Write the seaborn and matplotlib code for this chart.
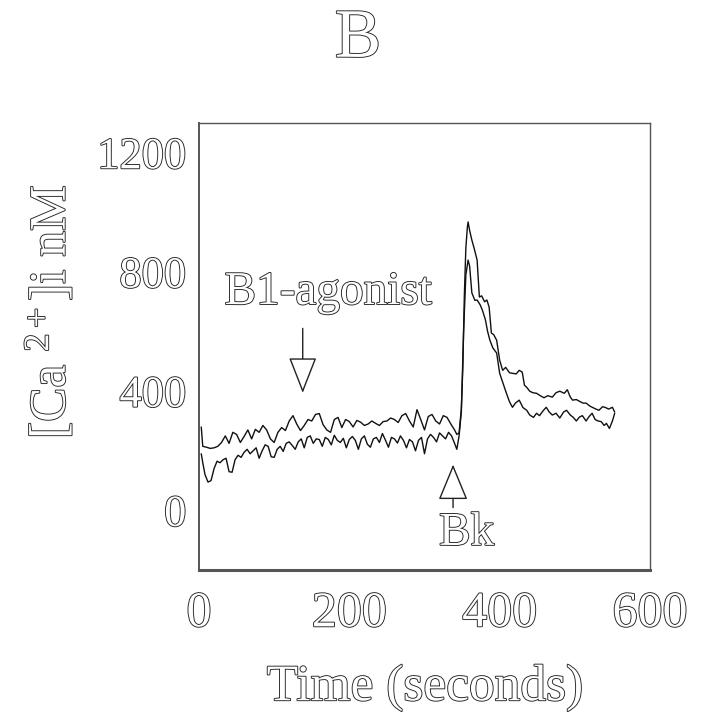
import matplotlib
matplotlib.use("Agg")
import matplotlib.pyplot as plt
import matplotlib.patheffects as pe
import seaborn as sns
import pandas as pd

# ---------------- data ----------------
upper_time = [3, 5, 10, 15, 20, 25, 30, 35, 40, 45, 50, 55, 60, 65, 70, 75, 80, 85, 90, 95,
              100, 105, 110, 115, 120, 125, 130, 135, 140, 145, 150, 155, 160, 165, 170, 175,
              180, 185, 190, 195, 200, 205, 210, 215, 220, 225, 230, 235, 240, 245, 250, 255,
              260, 265, 270, 275, 280, 285, 290, 295, 300, 305, 310, 315, 320, 325, 330, 335,
              340, 343, 346, 349, 351, 353, 355, 357, 358, 360, 363, 366, 370, 373, 376, 380,
              383, 386, 389, 392, 396, 400, 404, 408, 413, 417, 422, 426, 430, 433, 436, 440,
              444, 449, 454, 459, 464, 470, 475, 480, 486, 490, 494, 497, 502, 507, 511, 515,
              520, 524, 528, 532, 537, 541, 545, 550, 553]
upper_ca = [280, 215, 212, 208, 210, 215, 228, 250, 225, 262, 255, 228, 248, 270, 240, 272,
            262, 285, 270, 240, 228, 262, 278, 268, 300, 318, 290, 268, 285, 305, 300, 322,
            325, 288, 270, 262, 305, 312, 278, 305, 298, 280, 302, 296, 285, 290, 300, 292,
            285, 298, 300, 310, 305, 295, 318, 325, 300, 280, 338, 305, 270, 315, 322, 300,
            290, 318, 312, 290, 270, 255, 260, 340, 480, 720, 880, 950, 968, 940, 907, 880,
            840, 716, 720, 700, 706, 682, 595, 590, 571, 504, 470, 480, 462, 460, 458, 470,
            464, 420, 413, 400, 395, 393, 385, 378, 385, 380, 395, 400, 393, 405, 380, 370,
            372, 365, 360, 360, 350, 345, 340, 336, 348, 345, 340, 346, 330]

lower_time = [3, 5, 8, 12, 16, 20, 24, 28, 32, 36, 40, 44, 48, 52, 56, 60, 64, 68, 72, 76,
              80, 84, 88, 92, 96, 100, 104, 108, 112, 116, 120, 124, 128, 132, 136, 140, 144,
              148, 152, 156, 160, 164, 168, 172, 176, 180, 184, 188, 192, 196, 200, 204, 208,
              212, 216, 220, 224, 228, 232, 236, 240, 244, 248, 252, 256, 260, 264, 268, 272,
              276, 280, 284, 288, 292, 296, 300, 304, 308, 312, 316, 320, 324, 328, 332, 336,
              340, 343, 346, 349, 352, 355, 358, 360, 363, 367, 370, 374, 377, 381, 384, 387,
              391, 396, 400, 404, 409, 413, 417, 421, 426, 431, 436, 440, 445, 449, 453, 458,
              462, 466, 470, 475, 480, 485, 489, 494, 498, 502, 506, 510, 515, 519, 523, 527,
              531, 535, 539, 542, 546, 550, 553]
lower_ca = [190, 160, 120, 95, 100, 140, 165, 160, 170, 175, 130, 128, 170, 185, 178, 195,
            205, 190, 200, 210, 175, 200, 220, 215, 180, 178, 205, 215, 198, 225, 230, 218,
            205, 230, 240, 210, 245, 250, 225, 240, 238, 215, 245, 238, 220, 252, 235, 228,
            242, 210, 238, 248, 235, 205, 240, 250, 222, 212, 240, 245, 228, 258, 236, 212,
            245, 240, 226, 250, 235, 210, 238, 230, 200, 235, 245, 190, 240, 255, 245, 230,
            260, 250, 240, 262, 250, 225, 205, 250, 330, 600, 790, 840, 820, 730, 705, 706,
            690, 672, 640, 600, 571, 545, 528, 460, 430, 393, 365, 346, 360, 370, 345, 336,
            320, 312, 326, 318, 335, 346, 330, 320, 326, 310, 330, 336, 320, 312, 300, 313,
            318, 300, 315, 326, 305, 300, 298, 285, 292, 275, 300, 326]

x_ticks = [0, 200, 400, 600]
y_ticks = [0, 400, 800, 1200]
title_text = "B"
x_label = "Time (seconds)"
y_label = "[Ca $^{2+}$]i nM"
agonist_label = "B1-agonist"
bk_label = "Bk"

df = pd.concat([
    pd.DataFrame({"time": upper_time, "ca": upper_ca, "trace": "cell 1"}),
    pd.DataFrame({"time": lower_time, "ca": lower_ca, "trace": "cell 2"}),
], ignore_index=True)

# ---------------- figure ----------------
sns.set_style("white")
plt.rcParams["font.family"] = ["Liberation Serif", "DejaVu Serif"]
plt.rcParams["mathtext.fontset"] = "custom"
plt.rcParams["mathtext.rm"] = "Liberation Serif"
plt.rcParams["mathtext.it"] = "Liberation Serif"

W, H = 706, 722
fig = plt.figure(figsize=(W / 100, H / 100), dpi=100)
ax = fig.add_axes([199 / W, 1 - 570 / H, (650 - 199) / W, (570 - 123) / H])

sns.lineplot(data=df, x="time", y="ca", hue="trace", units="trace", estimator=None,
             sort=False, palette=["#111111", "#111111"], linewidth=1.0, legend=False, ax=ax)

ax.set_xlim(0, 600)
ax.set_ylim(-200, 1300)
ax.set_xticks(x_ticks)
ax.set_yticks(y_ticks)
ax.set_xticklabels([str(v) for v in x_ticks])
ax.set_yticklabels([str(v) for v in y_ticks])
ax.set_xlabel("")
ax.set_ylabel("")

for side, sp in ax.spines.items():
    sp.set_visible(True)
    sp.set_color("#555555")
    sp.set_linewidth(1.0)
ax.spines["bottom"].set_linewidth(2.2)
ax.spines["left"].set_linewidth(1.4)

outline = [pe.withStroke(linewidth=1.3, foreground="#222222")]

ax.tick_params(axis="y", direction="out", length=7, width=1.2, color="#333333",
               pad=2, labelsize=32, labelcolor="white")
ax.tick_params(axis="x", direction="out", length=5, width=1.0, color="#333333",
               pad=10, labelsize=36, labelcolor="white")
for lab in ax.get_xticklabels() + ax.get_yticklabels():
    lab.set_path_effects(outline)

# annotations
ax.annotate("", xy=(138, 385), xytext=(138, 620),
            arrowprops=dict(arrowstyle="-|>,head_length=2.3,head_width=0.9",
                            fc="white", ec="#222222", lw=1.0))
ax.annotate("", xy=(338, 163), xytext=(338, 0),
            arrowprops=dict(arrowstyle="-|>,head_length=2.3,head_width=0.95",
                            fc="white", ec="#222222", lw=1.0))
ax.text(172, 730, agonist_label, ha="center", va="center", fontsize=34,
        color="white", path_effects=outline)
ax.text(356, -78, bk_label, ha="center", va="center", fontsize=34,
        color="white", path_effects=outline)

fig.text(358 / W, 1 - 40 / H, title_text, ha="center", va="center", fontsize=50,
         color="white", path_effects=outline)
fig.text(425 / W, 1 - 688 / H, x_label, ha="center", va="center", fontsize=37,
         color="white", path_effects=outline)
fig.text(50 / W, 1 - 312 / H, y_label, ha="center", va="center", fontsize=37,
         rotation=90, color="white", path_effects=outline)

fig.savefig("out.png", dpi=100, facecolor="white")
